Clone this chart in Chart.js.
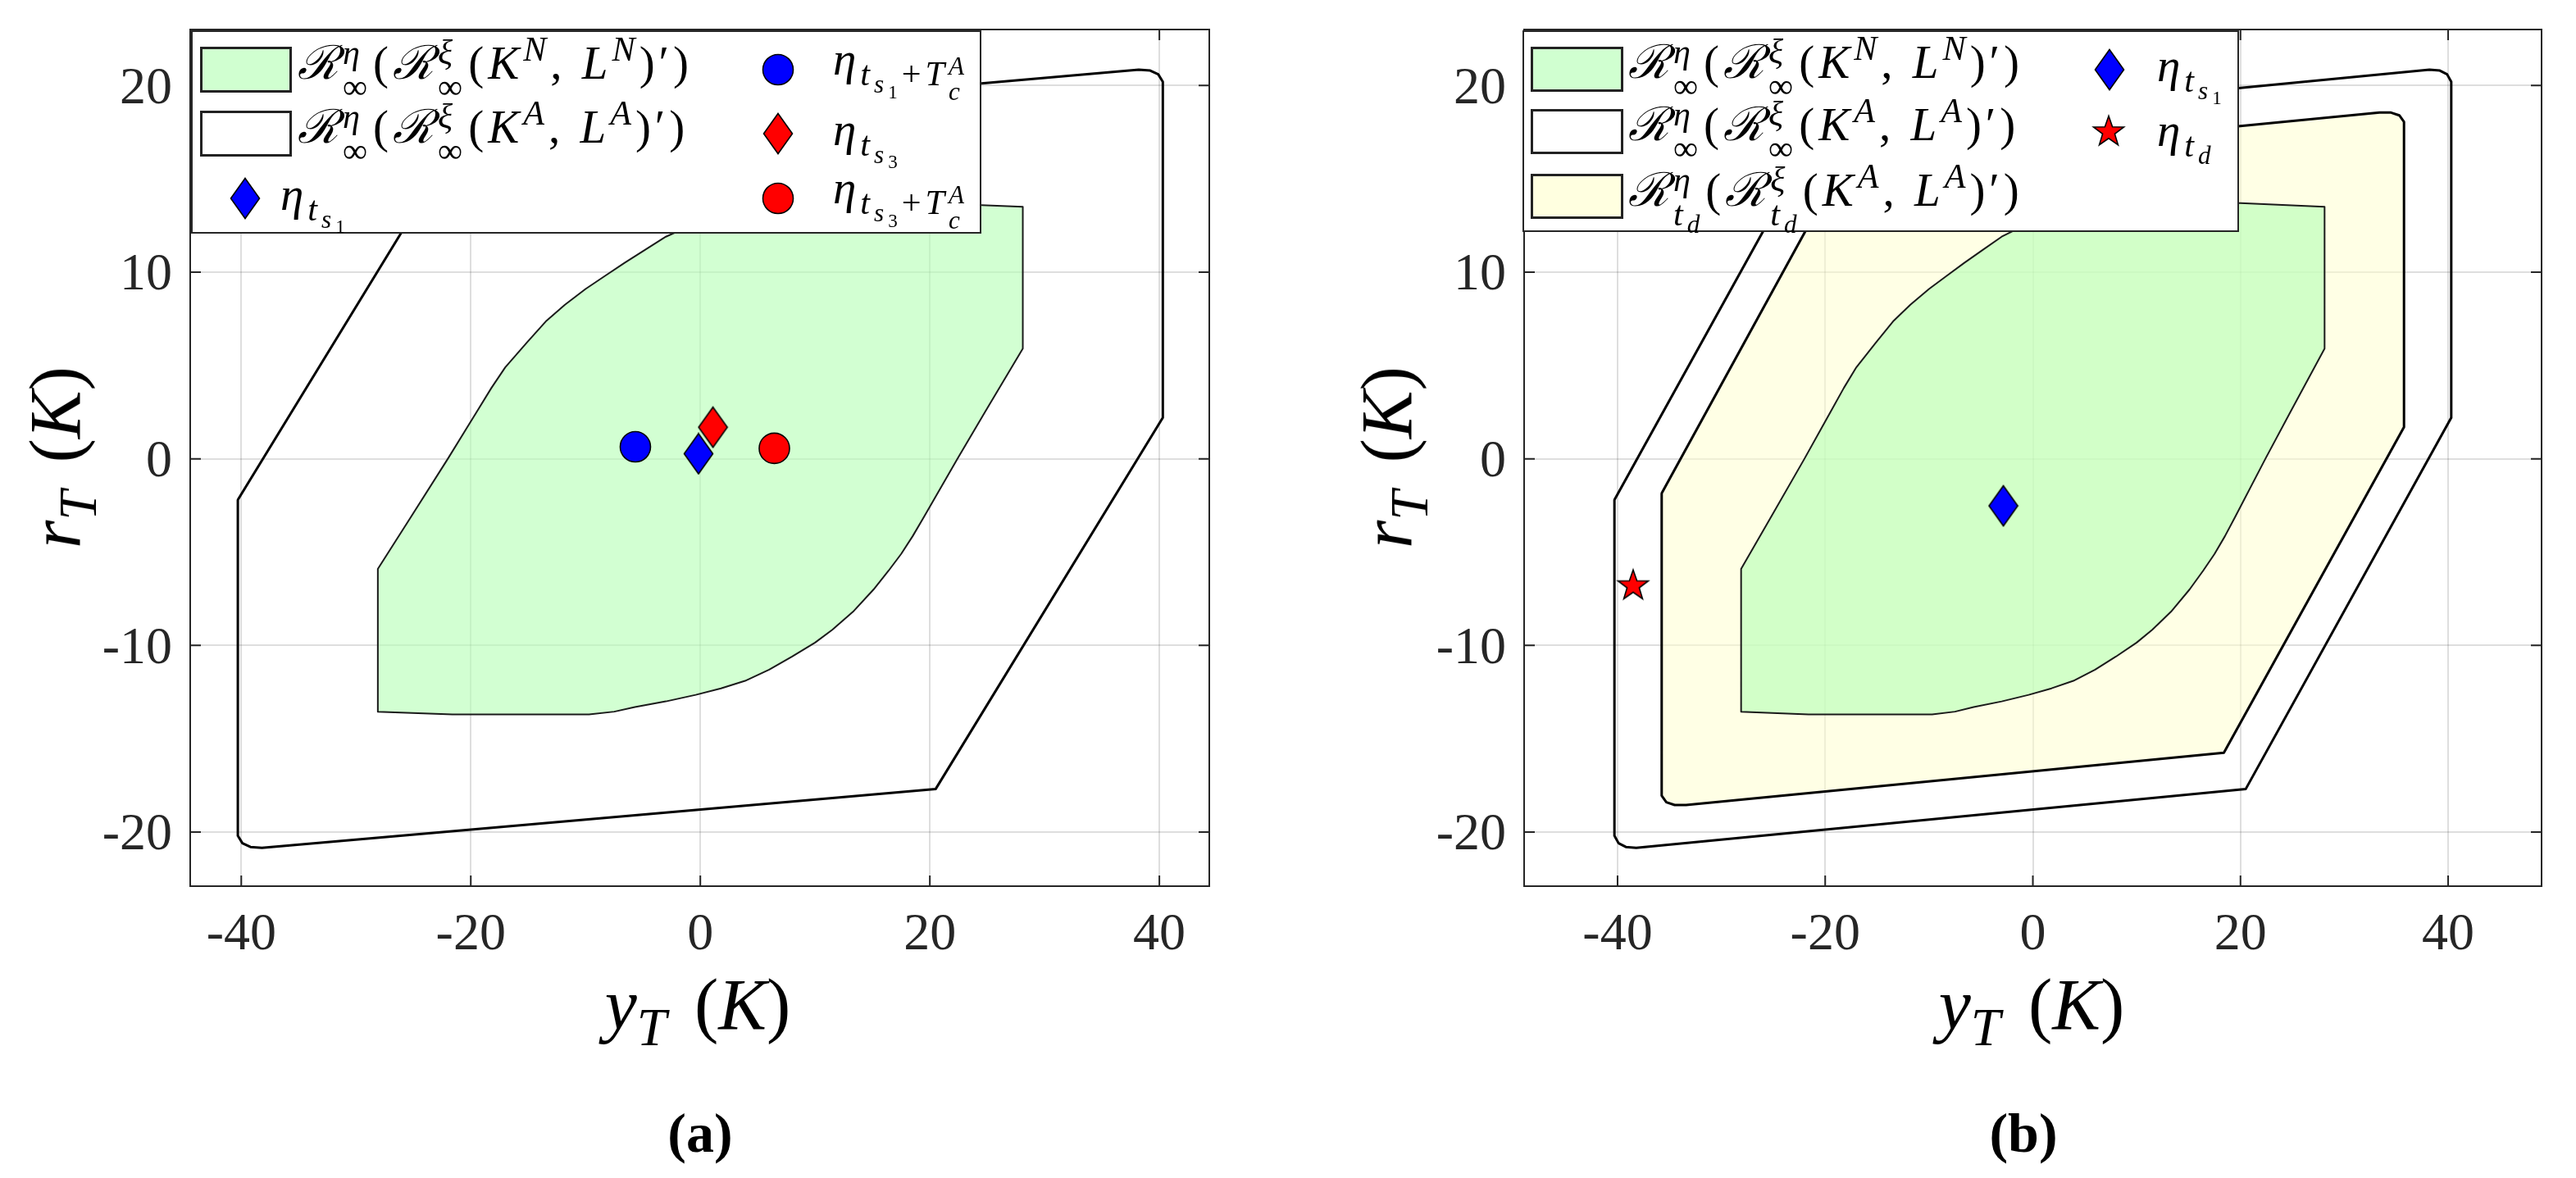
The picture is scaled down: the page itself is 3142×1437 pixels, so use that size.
<!DOCTYPE html>
<html>
<head>
<meta charset="utf-8">
<script src="https://cdn.jsdelivr.net/npm/chart.js@4.4.0/dist/chart.umd.min.js"></script>
<style>
  html, body { margin:0; padding:0; background:#fff; }
  #page { position:relative; width:3142px; height:1437px; overflow:hidden; font-family:"Liberation Serif","DejaVu Serif",serif; color:#000; }
  canvas.chart { position:absolute; top:0; }
  .legend { position:absolute; background:#fff; border:2px solid #262626; box-sizing:border-box; }
  .item { position:absolute; font-size:57px; line-height:1; white-space:nowrap; transform:translateY(-50%); letter-spacing:5px; }
  .sw { position:absolute; box-sizing:border-box; border:3px solid #222; }
  .mk { position:absolute; transform:translate(-50%,-50%); }
  sup, sub { font-size:0.74em; line-height:0; }
  sup { vertical-align:0.5em; }
  sub { vertical-align:-0.3em; }
  .ss { display:inline-flex; flex-direction:column; font-size:0.74em; line-height:1; vertical-align:0.42em; margin-right:2px; }
  .cal { font-family:"DejaVu Serif",serif; font-style:italic; }
  .axt { position:absolute; font-size:88px; line-height:1; white-space:nowrap; transform:translate(-50%,-50%); }
  .axt .gap { display:inline-block; width:34px; }
  .axt.rot { transform:translate(-50%,-50%) rotate(-90deg); }
  .cap { position:absolute; font-size:68px; font-weight:bold; line-height:1; transform:translate(-50%,-50%); }
</style>
</head>
<body>
<div id="page">
  <canvas id="chartA" class="chart" width="1540" height="1437" style="left:0"></canvas>
  <canvas id="chartB" class="chart" width="1582" height="1437" style="left:1560px"></canvas>

  <div class="legend" style="left:233px;top:37px;width:964px;height:248px"></div>
  <div class="legend" style="left:1857px;top:37px;width:874px;height:246px"></div>

  <div class="axt" style="left:851px;top:1226px"><i>y</i><sub><i>T</i></sub><span class="gap"></span>(<i>K</i>)</div>
  <div class="axt" style="left:2478px;top:1226px"><i>y</i><sub><i>T</i></sub><span class="gap"></span>(<i>K</i>)</div>
  <div class="axt rot" style="left:68px;top:558px"><i>r</i><sub><i>T</i></sub><span class="gap"></span>(<i>K</i>)</div>
  <div class="axt rot" style="left:1692px;top:558px"><i>r</i><sub><i>T</i></sub><span class="gap"></span>(<i>K</i>)</div>

  <div class="cap" style="left:854px;top:1382px">(a)</div>
  <div class="cap" style="left:2468px;top:1382px">(b)</div>
</div>
<script>
// ticks and axis limits
const xTicks = [-40, -20, 0, 20, 40];
const yTicks = [-20, -10, 0, 10, 20];
const xRangeA = [-44.45, 44.35];
const xRangeB = [-49, 49];
const yRange = [-22.9, 23.0];

// R_inf(R_inf(K^A, L^A)')  (outer set)
const outerX = [-40.3, -40.3, -39.9, -39.2, -38.2, 20.5, 40.3, 40.3, 39.9, 39.2, 38.2, -20.5, -40.3];
const outerY = [-2.2, -20.2, -20.6, -20.8, -20.85, -17.7, 2.2, 20.2, 20.6, 20.8, 20.85, 17.7, -2.2];

// R_inf(R_inf(K^N, L^N)')  (green set)
const greenX = [-28.1, -21.6, -12.5, -9.7, -7.5, -5.7, -3.0, -0.4, 1.8, 3.9, 6.0, 8.0, 10.0, 11.5, 13.3, 15.1, 16.4, 17.5, 18.5, 19.5, 22.4, 24.8, 28.1,
                28.1, 20.0, 13.0, 9.0, 6.0, 3.5, 1.0, -1.0, -3.0, -4.8, -6.6, -8.3, -10.0, -11.8, -13.4, -15.1, -17.0, -18.2, -19.4, -20.5, -22.0, -25.2, -28.1, -28.1];
const greenY = [-13.55, -13.7, -13.7, -13.7, -13.55, -13.3, -13.0, -12.65, -12.3, -11.9, -11.3, -10.6, -9.85, -9.16, -8.2, -7.0, -6.0, -5.1, -4.15, -3.1, 0, 2.5, 5.9,
                13.5, 13.7, 13.7, 13.6, 13.45, 13.2, 12.85, 12.45, 11.9, 11.2, 10.5, 9.8, 9.1, 8.25, 7.4, 6.24, 4.9, 3.8, 2.6, 1.5, 0, -3.1, -5.9, -13.55];

// R_td(R_td(K^A, L^A)')  (yellow set, panel b)
const yellowX = [-35.75, -35.75, -35.3, -34.5, -33.4, 18.4, 35.75, 35.75, 35.3, 34.5, 33.4, -18.4, -35.75];
const yellowY = [-1.85, -18.05, -18.4, -18.55, -18.55, -15.75, 1.7, 18.05, 18.4, 18.55, 18.55, 15.75, -1.85];

// markers panel a: eta_ts1, eta_ts1+TcA, eta_ts3, eta_ts3+TcA
const pointXA = [-0.16, -5.66, 1.10, 6.45];
const pointYA = [0.27, 0.64, 1.69, 0.56];
// markers panel b: eta_ts1, eta_td
const pointXB = [-2.84, -38.5];
const pointYB = [-2.52, -6.72];

const greenFill = 'rgba(180,255,180,0.6)';
const yellowFill = 'rgba(255,255,204,0.5)';
const tickFontString = "64px 'Liberation Serif'";
Chart.defaults.font.family = "'Liberation Serif', serif";

function pts(xs, ys) { return xs.map((x, i) => ({ x: x, y: ys[i] })); }

function markerCanvas(kind, color) {
  const c = document.createElement('canvas');
  let w = 40, h = 40;
  if (kind === 'diamond') { w = 38; h = 52; }
  if (kind === 'star') { w = 42; h = 42; }
  c.width = w; c.height = h;
  const g = c.getContext('2d');
  g.beginPath();
  if (kind === 'diamond') {
    g.moveTo(w / 2, 1.5); g.lineTo(w - 1.5, h / 2); g.lineTo(w / 2, h - 1.5); g.lineTo(1.5, h / 2);
  } else if (kind === 'star') {
    for (let i = 0; i < 10; i++) {
      const r = i % 2 ? 7.8 : 19.5;
      const a = -Math.PI / 2 + i * Math.PI / 5;
      g.lineTo(w / 2 + r * Math.cos(a), h / 2 + 2 + r * Math.sin(a));
    }
  } else {
    g.arc(w / 2, h / 2, 18.5, 0, Math.PI * 2);
  }
  g.closePath();
  g.fillStyle = color; g.fill();
  g.lineWidth = 1.6; g.strokeStyle = '#000'; g.stroke();
  return c;
}

function polygon(xs, ys, fill, line, width, order) {
  return {
    data: pts(xs, ys), showLine: true, fill: fill ? 'shape' : false,
    backgroundColor: fill || 'transparent', borderColor: line, borderWidth: width,
    pointRadius: 0, tension: 0, borderJoinStyle: 'round', order: order
  };
}

function marker(x, y, style, color) {
  return {
    data: [{ x: x, y: y }], showLine: false, pointStyle: style, pointRadius: 18.5,
    backgroundColor: color, borderColor: '#000', borderWidth: 1.6, order: 0
  };
}

// box, inward ticks and tick labels (matlab style)
const framePlugin = {
  id: 'frame',
  afterDatasetsDraw(chart) {
    const { ctx, chartArea: a } = chart;
    const x = chart.scales.x, y = chart.scales.y;
    const L = 13;
    ctx.save();
    ctx.strokeStyle = '#262626';
    ctx.lineWidth = 2;
    ctx.strokeRect(a.left, a.top, a.right - a.left, a.bottom - a.top);
    ctx.beginPath();
    x.ticks.forEach(t => {
      const p = x.getPixelForValue(t.value);
      ctx.moveTo(p, a.bottom); ctx.lineTo(p, a.bottom - L);
      ctx.moveTo(p, a.top); ctx.lineTo(p, a.top + L);
    });
    y.ticks.forEach(t => {
      const p = y.getPixelForValue(t.value);
      ctx.moveTo(a.left, p); ctx.lineTo(a.left + L, p);
      ctx.moveTo(a.right, p); ctx.lineTo(a.right - L, p);
    });
    ctx.stroke();

    ctx.font = tickFontString;
    ctx.fillStyle = '#262626';
    ctx.textBaseline = 'alphabetic';
    ctx.textAlign = 'center';
    x.ticks.forEach(t => ctx.fillText(String(t.value), x.getPixelForValue(t.value), a.bottom + 77));
    ctx.textAlign = 'right';
    y.ticks.forEach(t => ctx.fillText(String(t.value), a.left - 22, y.getPixelForValue(t.value) + 21.5));
    ctx.restore();
  }
};

function makeChart(id, xr, yAxisWidth, padRight, datasets) {
  const grid = { color: 'rgba(0,0,0,0.13)', lineWidth: 2, drawTicks: false };
  return new Chart(document.getElementById(id), {
    type: 'scatter',
    data: { datasets: datasets },
    options: {
      responsive: false, animation: false, events: [],
      layout: { padding: { top: 36, right: padRight, left: 0, bottom: 0 } },
      plugins: { legend: { display: false }, tooltip: { enabled: false } },
      scales: {
        x: {
          type: 'linear', min: xr[0], max: xr[1], grid: grid, border: { display: false },
          afterBuildTicks: s => { s.ticks = xTicks.map(v => ({ value: v })); },
          afterFit: s => { s.height = 356; },
          ticks: { display: false }
        },
        y: {
          type: 'linear', min: yRange[0], max: yRange[1], grid: grid, border: { display: false },
          afterBuildTicks: s => { s.ticks = yTicks.map(v => ({ value: v })); },
          afterFit: s => { s.width = yAxisWidth; },
          ticks: { display: false }
        }
      }
    },
    plugins: [framePlugin]
  });
}

function drawCharts() {
  makeChart('chartA', xRangeA, 232, 65, [
    marker(pointXA[0], pointYA[0], markerCanvas('diamond', '#0000ff')),
    marker(pointXA[1], pointYA[1], 'circle', '#0000ff'),
    marker(pointXA[2], pointYA[2], markerCanvas('diamond', '#ff0000')),
    marker(pointXA[3], pointYA[3], 'circle', '#ff0000'),
    polygon(greenX, greenY, greenFill, '#1a1a1a', 2, 1),
    polygon(outerX, outerY, null, '#000', 3, 3)
  ]);

  makeChart('chartB', xRangeB, 299, 42, [
    marker(pointXB[0], pointYB[0], markerCanvas('diamond', '#0000ff')),
    marker(pointXB[1], pointYB[1], markerCanvas('star', '#ff0000')),
    polygon(greenX, greenY, greenFill, '#1a1a1a', 2, 1),
    polygon(yellowX, yellowY, yellowFill, '#000', 3, 2),
    polygon(outerX, outerY, null, '#000', 3, 3)
  ]);
}

// legends (html, math-like text)
const page = document.getElementById('page');
const ss = (a, b) => '<span class="ss"><span>' + a + '</span><span>' + b + '</span></span>';
const Rc = '<span class="cal">ℛ</span>';
const setText = (sub, k) => Rc + ss('<i>η</i>', sub) + '(' + Rc + ss('<i>ξ</i>', sub) +
  '(<i>K</i><sup><i>' + k + '</i></sup>, <i>L</i><sup><i>' + k + '</i></sup>)′)';
const etaS = n => '<i>η</i><sub><i>t</i><sub><i>s</i><sub>' + n + '</sub></sub></sub>';
const etaST = n => '<i>η</i><sub><i>t</i><sub><i>s</i><sub>' + n + '</sub></sub>+<i>T</i>' + ss('<i>A</i>', '<i>c</i>') + '</sub>';
const etaTd = '<i>η</i><sub><i>t</i><sub><i>d</i></sub></sub>';
const tdSub = '<i>t</i><sub><i>d</i></sub>';

function addText(html, left, cy) {
  const d = document.createElement('div');
  d.className = 'item'; d.style.left = left + 'px'; d.style.top = cy + 'px';
  d.innerHTML = html; page.appendChild(d);
}
function addSwatch(left, top, w, h, color) {
  const d = document.createElement('div');
  d.className = 'sw';
  Object.assign(d.style, { left: left + 'px', top: top + 'px', width: w + 'px', height: h + 'px', background: color });
  page.appendChild(d);
}
function addMarker(kind, color, cx, cy) {
  const c = markerCanvas(kind, color);
  c.className = 'mk'; c.style.left = cx + 'px'; c.style.top = cy + 'px';
  page.appendChild(c);
}

// panel a legend
addSwatch(244, 57, 112, 56, '#d0ffd0');
addSwatch(244, 135, 112, 56, '#ffffff');
addMarker('diamond', '#0000ff', 299, 242);
addText(setText('∞', 'N'), 363, 85);
addText(setText('∞', 'A'), 363, 163);
addText(etaS(1), 342, 242);
addMarker('circle', '#0000ff', 949, 85);
addMarker('diamond', '#ff0000', 949, 163);
addMarker('circle', '#ff0000', 949, 242);
addText(etaST(1), 1016, 85);
addText(etaS(3), 1016, 163);
addText(etaST(3), 1016, 242);

// panel b legend
addSwatch(1867, 57, 113, 55, '#d0ffd0');
addSwatch(1867, 133, 113, 55, '#ffffff');
addSwatch(1867, 212, 113, 55, '#ffffe0');
addText(setText('∞', 'N'), 1986, 84);
addText(setText('∞', 'A'), 1986, 160);
addText(Rc + ss('<i>η</i>', tdSub) + '(' + Rc + ss('<i>ξ</i>', tdSub) + '(<i>K</i><sup><i>A</i></sup>, <i>L</i><sup><i>A</i></sup>)′)', 1986, 240);
addMarker('diamond', '#0000ff', 2573, 85);
addMarker('star', '#ff0000', 2572, 159);
addText(etaS(1), 2631, 85);
addText(etaTd, 2631, 160);

// canvas text needs the serif face loaded first
const fontWait = document.fonts ? document.fonts.load(tickFontString, '-0123456789') : Promise.resolve();
Promise.race([fontWait, new Promise(r => setTimeout(r, 1500))])
  .catch(() => {})
  .then(drawCharts);
</script>
</body>
</html>
